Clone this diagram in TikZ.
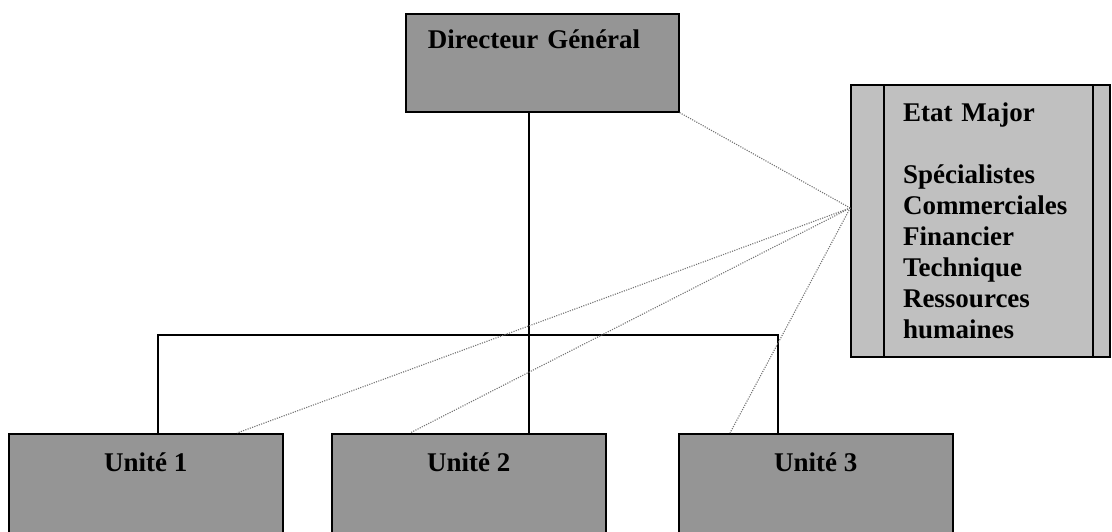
\documentclass[tikz,border=0pt]{standalone}
\usepackage{fontspec}
\setmainfont{Liberation Serif}
\usetikzlibrary{positioning}

\definecolor{boxgray}{HTML}{959595}
\definecolor{staffgray}{HTML}{C0C0C0}

\begin{document}
\begin{tikzpicture}[
    x=1pt, y=-1pt,
    txt/.style={font=\bfseries\fontsize{27}{31}\selectfont},
    box/.style={rectangle, draw, line width=1.6pt, fill=boxgray, txt, text height=18pt},
    unit/.style={box, anchor=north west, minimum width=274pt, inner ysep=20pt, text depth=110pt},
    staff/.style={rectangle, draw, line width=1.6pt, fill=staffgray, txt, align=left, text width=155pt, minimum width=259pt, minimum height=272pt, execute at begin node={\hyphenpenalty=10000\relax}},
    line/.style={draw, line width=1.1pt},
    link/.style={draw, black!55, line width=1.1pt, dash pattern=on 1.1pt off 1.3pt}
]
\useasboundingbox (0,0) rectangle (1112,531);
\clip (0,0) rectangle (1112,531);

% Nodes
\node[box, anchor=north west, text width=229pt, inner xsep=22pt, align=left, inner ysep=17pt, text depth=46pt] (dg) at (405,13) {Directeur Général};
\node[staff] (etat) at (980.5,221) {Etat Major\\[31pt]Spécialistes\\Commerciales\\Financier\\Technique\\Ressources\\humaines};
\node[unit] (u1) at (8,433) {Unité 1};
\node[unit] (u2) at (331,433) {Unité 2};
\node[unit] (u3) at (678,433) {Unité 3};

% Staff columns
\draw[line width=1.6pt] ([xshift=34pt]etat.north west) -- ([xshift=34pt]etat.south west);
\draw[line width=1.6pt] ([xshift=-18pt]etat.north east) -- ([xshift=-18pt]etat.south east);

% Paths
\coordinate (busL) at (158,335);
\coordinate (busM) at (529,335);
\coordinate (busR) at (778,335);
\draw[line] (dg.south -| busM) -- (busM |- u2.north);
\draw[line] (busL |- u1.north) -- (busL) -- (busR) -- (busR |- u3.north);

% Staff links
\coordinate (hub) at ([yshift=13pt]etat.west);
\draw[link] (dg.south east) -- (hub);
\draw[link] (hub) -- (u1.north -| 237,0);
\draw[link] (hub) -- (u2.north -| 410,0);
\draw[link] (hub) -- (u3.north -| 730,0);

\end{tikzpicture}
\end{document}
